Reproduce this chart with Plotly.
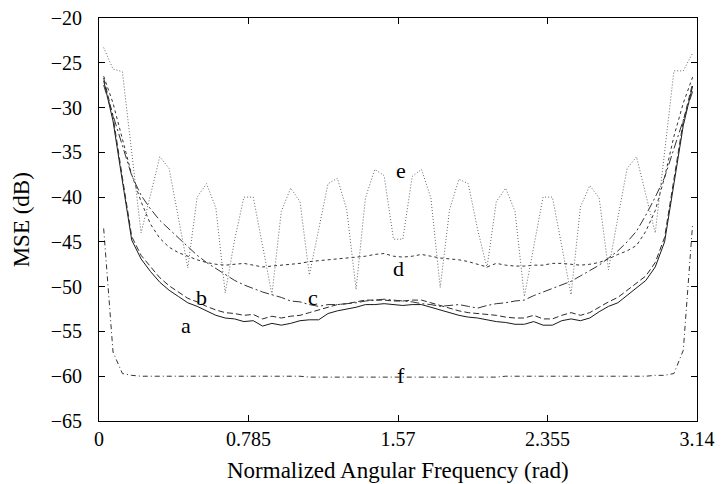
import plotly.graph_objects as go

freq = [0.0245, 0.0736, 0.1227, 0.1718, 0.2209, 0.2700, 0.3191, 0.3682,
        0.4172, 0.4663, 0.5154, 0.5645, 0.6136, 0.6627, 0.7118, 0.7609,
        0.8099, 0.8590, 0.9081, 0.9572, 1.0063, 1.0554, 1.1045, 1.1536,
        1.2026, 1.2517, 1.3008, 1.3499, 1.3990, 1.4481, 1.4972, 1.5463,
        1.5953, 1.6444, 1.6935, 1.7426, 1.7917, 1.8408, 1.8899, 1.9390,
        1.9880, 2.0371, 2.0862, 2.1353, 2.1844, 2.2335, 2.2826, 2.3317,
        2.3807, 2.4298, 2.4789, 2.5280, 2.5771, 2.6262, 2.6753, 2.7244,
        2.7734, 2.8225, 2.8716, 2.9207, 2.9698, 3.0189, 3.0680, 3.1170]

mse_a = [-27.0, -31.5, -38.2, -44.8, -46.9, -48.3, -49.5, -50.4,
         -51.1, -51.8, -52.2, -52.7, -53.2, -53.5, -53.6, -53.9,
         -53.8, -54.4, -54.1, -54.3, -54.1, -53.8, -53.7, -53.7,
         -53.0, -52.7, -52.5, -52.3, -52.0, -52.0, -51.9, -52.0,
         -52.1, -52.0, -52.0, -52.3, -52.6, -52.9, -53.2, -53.4,
         -53.5, -53.7, -53.9, -54.0, -54.2, -54.2, -53.9, -54.3,
         -54.3, -53.8, -53.6, -53.8, -53.5, -52.8, -52.2, -51.8,
         -51.0, -50.1, -49.3, -47.8, -45.0, -38.5, -32.0, -27.6]

mse_b = [-26.7, -31.0, -37.8, -44.4, -46.5, -47.8, -49.0, -49.9,
         -50.6, -51.3, -51.7, -52.2, -52.6, -52.9, -53.0, -53.2,
         -53.1, -53.6, -53.3, -53.5, -53.3, -53.2, -52.9, -52.6,
         -52.3, -52.0, -51.9, -51.7, -51.5, -51.5, -51.5, -51.6,
         -51.6, -51.5, -51.5, -51.8, -52.1, -52.4, -52.7, -52.9,
         -53.0, -53.1, -53.2, -53.4, -53.5, -53.5, -53.2, -53.6,
         -53.6, -53.2, -52.9, -53.2, -52.9, -52.3, -51.7, -51.2,
         -50.4, -49.5, -48.8, -47.3, -44.5, -38.0, -31.5, -27.3]

mse_c = [-27.5, -30.8, -34.2, -37.6, -39.8, -41.3, -42.6, -43.6,
         -44.6, -45.6, -46.5, -47.3, -48.0, -48.6, -49.3, -49.8,
         -50.2, -50.6, -50.9, -51.2, -51.6, -51.7, -52.0, -52.2,
         -52.0, -52.0, -51.9, -51.8, -51.6, -51.5, -51.4, -51.5,
         -51.6, -51.7, -51.9, -52.0, -52.2, -52.1, -52.0, -52.2,
         -52.4, -52.1, -51.9, -51.8, -51.6, -51.5, -51.0, -50.6,
         -50.2, -49.8, -49.4, -48.8, -48.2, -47.6, -46.8, -46.0,
         -45.0, -43.8, -42.0, -40.0, -37.8, -34.6, -31.2, -28.2]

mse_d = [-26.5, -29.5, -33.5, -37.5, -40.5, -43.0, -44.6, -45.6,
         -46.2, -46.6, -47.0, -47.3, -47.5, -47.6, -47.5, -47.4,
         -47.6, -47.8, -47.7, -47.6, -47.5, -47.4, -47.2, -47.1,
         -47.0, -46.9, -46.8, -46.7, -46.6, -46.4, -46.3, -46.6,
         -46.7, -46.6, -46.4, -46.6, -46.8, -46.9, -47.0, -47.2,
         -47.5, -47.8, -47.4, -47.6, -47.7, -47.7, -47.6, -47.6,
         -47.4, -47.4, -47.5, -47.6, -47.5, -47.3, -46.9, -46.4,
         -46.0, -45.4, -43.8, -41.5, -37.8, -33.2, -29.5, -26.6]

mse_e = [-23.3, -25.7, -26.0, -35.0, -44.0, -39.8, -35.5, -36.8,
         -42.3, -47.9, -40.0, -38.5, -41.2, -50.7, -44.8, -40.0,
         -40.0, -45.5, -50.9, -41.6, -39.0, -40.5, -48.7, -43.6,
         -38.5, -37.9, -41.4, -50.3, -40.1, -36.9, -37.6, -44.7,
         -44.7, -37.7, -36.9, -40.1, -50.1, -41.4, -38.0, -38.5,
         -43.6, -47.9, -40.5, -39.0, -41.6, -51.1, -45.5, -40.0,
         -40.0, -45.5, -50.9, -41.1, -38.7, -40.1, -48.1, -42.3,
         -36.8, -35.5, -39.8, -44.0, -35.0, -25.9, -25.9, -23.9]

mse_f = [-43.5, -57.3, -59.7, -59.9, -60.0, -60.0, -60.0, -60.0,
         -60.0, -60.0, -60.0, -60.0, -60.0, -60.0, -60.0, -60.0,
         -60.0, -60.0, -60.0, -60.0, -60.0, -60.0, -60.1, -60.1,
         -60.1, -60.1, -60.1, -60.1, -60.1, -60.1, -60.1, -60.1,
         -60.1, -60.1, -60.1, -60.1, -60.1, -60.1, -60.1, -60.1,
         -60.1, -60.1, -60.1, -60.0, -60.0, -60.0, -60.0, -60.0,
         -60.0, -60.0, -60.0, -60.0, -60.0, -60.0, -60.0, -60.0,
         -60.0, -60.0, -60.0, -59.9, -59.9, -59.7, -57.1, -43.0]

series = [
    ("a", mse_a, "#1a1a1a", "solid"),
    ("b", mse_b, "#2a2a2a", "6px,3px"),
    ("c", mse_c, "#333333", "9px,3px,2px,3px"),
    ("d", mse_d, "#333333", "3px,3px"),
    ("e", mse_e, "#666666", "1px,2px"),
    ("f", mse_f, "#333333", "5px,3px,1px,3px"),
]

label_names = ["a", "b", "c", "d", "e", "f"]
label_x = [0.457, 0.536, 1.124, 1.572, 1.588, 1.588]
label_y = [-54.3, -51.2, -51.2, -48.0, -37.0, -59.9]

x_ticks = [0, 0.785, 1.57, 2.355, 3.14]
x_tick_text = ["0", "0.785", "1.57", "2.355", "3.14"]
y_ticks = [-65, -60, -55, -50, -45, -40, -35, -30, -25, -20]

SERIF = "Liberation Serif"

fig = go.Figure()
for name, vals, col, dash in series:
    fig.add_trace(go.Scatter(x=freq, y=vals, mode="lines", name=name,
                             line=dict(color=col, width=1, dash=dash),
                             showlegend=False))

for t, lx, ly in zip(label_names, label_x, label_y):
    fig.add_annotation(x=lx, y=ly, text=t, showarrow=False,
                       font=dict(family=SERIF, size=22, color="black"),
                       bgcolor="rgba(0,0,0,0)")

# axis titles as paper annotations so that plot area stays fixed
fig.add_annotation(x=0.5, y=-0.122, xref="paper", yref="paper", yanchor="middle",
                   text="Normalized Angular Frequency (rad)", showarrow=False,
                   font=dict(family=SERIF, size=23, color="black"))
fig.add_annotation(x=-0.129, y=0.5, xref="paper", yref="paper", xanchor="center",
                   text="MSE (dB)", textangle=-90, showarrow=False,
                   font=dict(family=SERIF, size=23, color="black"))

fig.update_layout(
    width=723, height=484,
    margin=dict(l=99, r=26, t=18, b=63, autoexpand=False),
    paper_bgcolor="white", plot_bgcolor="white",
    font=dict(family=SERIF, size=20, color="black"),
)
fig.update_xaxes(range=[0, 3.14], tickvals=x_ticks, ticktext=x_tick_text,
                 tickfont=dict(family=SERIF, size=20, color="black"),
                 showgrid=False, zeroline=False, showline=True, linecolor="black",
                 linewidth=1, mirror="ticks", ticks="inside", ticklen=6,
                 tickcolor="black")
fig.update_yaxes(range=[-65, -20], tickvals=y_ticks,
                 tickfont=dict(family=SERIF, size=20, color="black"),
                 showgrid=False, zeroline=False, showline=True, linecolor="black",
                 linewidth=1, mirror="ticks", ticks="inside", ticklen=6,
                 tickcolor="black", ticklabelstandoff=12)

fig.write_html("out.html")
